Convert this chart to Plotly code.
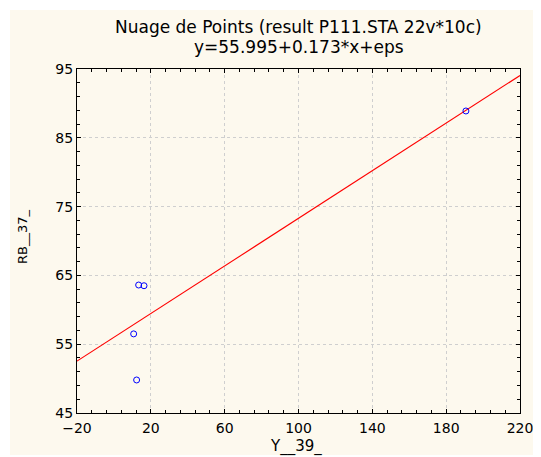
import plotly.graph_objects as go

# data
x_vals = [13.4, 16.3, 10.7, 12.3, 190.7]
y_vals = [63.6, 63.5, 56.5, 49.8, 88.9]
intercept = 55.995
slope = 0.173
x_range = [-20, 220]
y_range = [45, 95]

title_line1 = "Nuage de Points (result P111.STA 22v*10c)"
title_line2 = "y=55.995+0.173*x+eps"
x_title = "Y__39_"
y_title = "RB__37_"

font_family = "DejaVu Sans, Liberation Sans, Arial, sans-serif"

fig = go.Figure()
fig.add_trace(go.Scatter(
    x=x_range,
    y=[intercept + slope * v for v in x_range],
    mode="lines", line=dict(color="#ff0000", width=1.1),
    showlegend=False, hoverinfo="skip"))
fig.add_trace(go.Scatter(
    x=x_vals, y=y_vals, mode="markers",
    marker=dict(symbol="circle-open", size=6, color="#0000ff", line=dict(width=1)),
    showlegend=False))

# page body has an 8px margin, so the figure is offset by 8px in the window
OFF = 8
W, H = 541 - OFF, 457 - OFF
L, T = 77 - OFF, 69 - OFF
pw, ph = 443, 344
R = W - L - pw
B = H - T - ph

def px(xw):
    return (xw - OFF - L) / pw

def py(yw):
    return (T + ph - (yw - OFF)) / ph

fig.update_layout(
    width=W, height=H,
    margin=dict(l=L, r=R, t=T, b=B, autoexpand=False),
    paper_bgcolor="white",
    plot_bgcolor="white",
    font=dict(family=font_family, color="black"),
    shapes=[dict(type="rect", xref="paper", yref="paper",
                 x0=px(10), x1=px(545), y0=py(455), y1=py(10),
                 fillcolor="#fdf9ee", line=dict(width=0), layer="below")],
    annotations=[
        dict(text=title_line1, xref="paper", yref="paper", x=0.5, y=py(27),
             showarrow=False, font=dict(size=17), xanchor="center", yanchor="middle"),
        dict(text=title_line2, xref="paper", yref="paper", x=0.5, y=py(47),
             showarrow=False, font=dict(size=17), xanchor="center", yanchor="middle"),
        dict(text=x_title, xref="paper", yref="paper", x=px(296), y=py(446),
             showarrow=False, font=dict(size=15), xanchor="center", yanchor="middle"),
        dict(text=y_title, xref="paper", yref="paper", x=px(22), y=py(237),
             showarrow=False, font=dict(size=13), xanchor="center", yanchor="middle",
             textangle=-90),
    ],
    xaxis=dict(
        range=x_range, dtick=40, tick0=-20,
        showline=True, linecolor="black", linewidth=1, mirror="ticks",
        ticks="inside", ticklen=4, tickcolor="black",
        showgrid=True, gridcolor="#cfcfcf", griddash="dot", gridwidth=1,
        zeroline=False, automargin=False,
        tickfont=dict(size=14), ticklabelstandoff=2,
        minor=dict(dtick=8, tick0=-20, ticks="inside", ticklen=3, tickcolor="black", showgrid=False),
    ),
    yaxis=dict(
        range=y_range, dtick=10, tick0=45,
        showline=True, linecolor="black", linewidth=1, mirror="ticks",
        ticks="inside", ticklen=4, tickcolor="black",
        showgrid=True, gridcolor="#cfcfcf", griddash="dot", gridwidth=1,
        zeroline=False, automargin=False,
        tickfont=dict(size=14),
        minor=dict(dtick=2, tick0=45, ticks="inside", ticklen=3, tickcolor="black", showgrid=False),
    ),
)

fig.write_html("out.html")
